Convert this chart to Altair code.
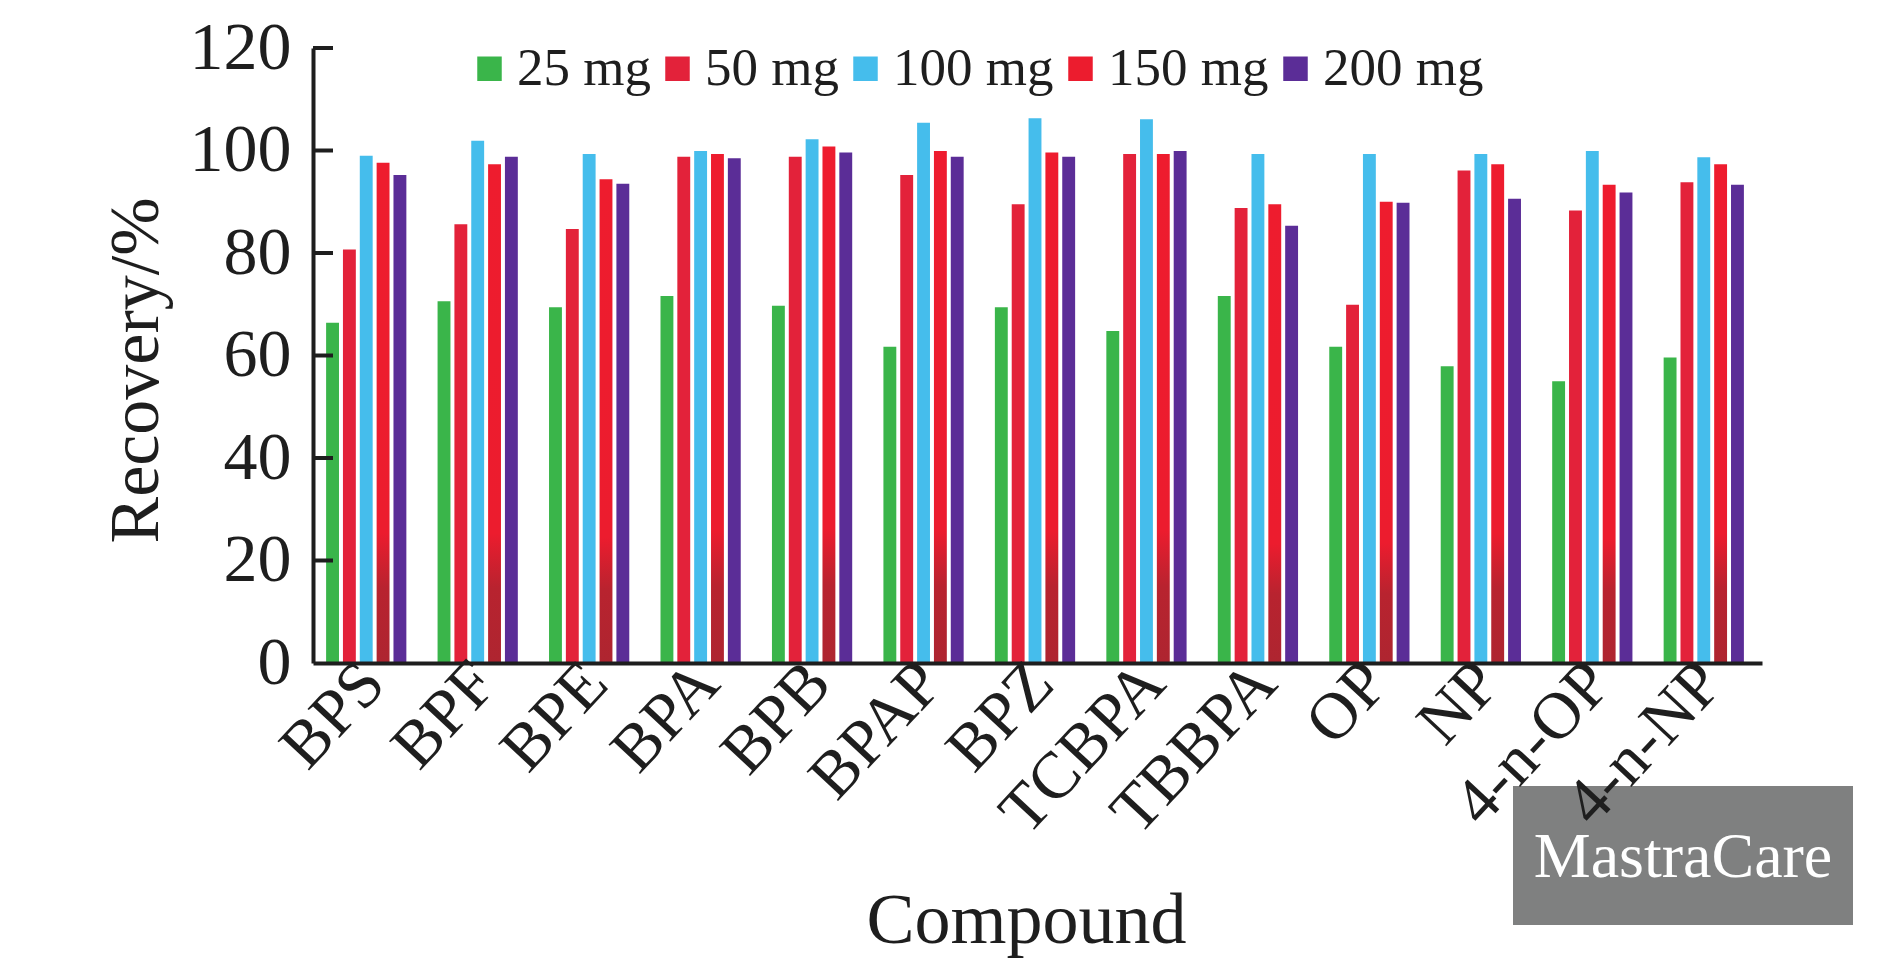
import altair as alt
import pandas as pd

# Recovery (%) of each compound at five sorbent dosages
compounds = ["BPS", "BPF", "BPE", "BPA", "BPB", "BPAP", "BPZ", "TCBPA",
             "TBBPA", "OP", "NP", "4-n-OP", "4-n-NP"]
doses = ["25 mg", "50 mg", "100 mg", "150 mg", "200 mg"]
rec_25mg = [66.4, 70.6, 69.4, 71.6, 69.7, 61.7, 69.4, 64.8, 71.6, 61.7, 57.9, 55.0, 59.6]
rec_50mg = [80.7, 85.6, 84.7, 98.8, 98.8, 95.2, 89.5, 99.3, 88.8, 69.9, 96.1, 88.3, 93.8]
rec_100mg = [99.0, 101.9, 99.3, 99.9, 102.2, 105.4, 106.3, 106.1, 99.3, 99.3, 99.3, 99.9, 98.7]
rec_150mg = [97.6, 97.3, 94.4, 99.3, 100.8, 99.9, 99.6, 99.3, 89.5, 90.0, 97.3, 93.3, 97.3]
rec_200mg = [95.2, 98.8, 93.5, 98.5, 99.6, 98.8, 98.8, 99.9, 85.3, 89.8, 90.6, 91.8, 93.3]
dose_colors = ["#3AB54A", "#E3223A", "#45BDEC", "#EC1C2E", "#5B2D97"]
y_ticks = [0, 20, 40, 60, 80, 100, 120]

rows = []
for dose, series in zip(doses, [rec_25mg, rec_50mg, rec_100mg, rec_150mg, rec_200mg]):
    for compound, value in zip(compounds, series):
        rows.append({"Compound": compound, "Dose": dose, "Recovery": value})
df = pd.DataFrame(rows)

FONT = "Liberation Serif"
INK = "#1E1E1E"

# the 150 mg bars fade to a darker red towards their base
red_fade = alt.LinearGradient(
    gradient="linear", x1=0, y1=0, x2=0, y2=1,
    stops=[
        alt.GradientStop(offset=0, color="#EE1C2E"),
        alt.GradientStop(offset=0.74, color="#EC1C2E"),
        alt.GradientStop(offset=0.85, color="#B8232F"),
        alt.GradientStop(offset=1, color="#AE2530"),
    ],
)

y_axis = alt.Axis(
    values=y_ticks, ticks=False, tickSize=0, grid=False,
    domain=True, domainWidth=4, domainColor=INK,
    labelFont=FONT, labelFontSize=68, labelColor=INK, labelPadding=22,
    labelFlush=False, labelOverlap=False,
    title="Recovery/%", titleFont=FONT, titleFontSize=70, titleFontWeight="normal",
    titleColor=INK, titleAngle=-90, titleX=-156, titleY=322,
    titleAlign="center", titleBaseline="alphabetic", zindex=1,
)

x_axis = alt.Axis(
    ticks=False, tickSize=0, grid=False,
    domain=True, domainWidth=4, domainColor=INK,
    labelFont=FONT, labelFontSize=66, labelColor=INK,
    labelAngle=-47, labelAlign="right", labelBaseline="middle",
    labelPadding=9, labelOffset=7, labelLimit=500, labelOverlap=False,
    title="Compound", titleFont=FONT, titleFontSize=72, titleFontWeight="normal",
    titleColor=INK, titleX=713, titleY=279,
    titleAlign="center", titleBaseline="alphabetic", zindex=1,
)

legend = alt.Legend(
    orient="none", legendX=150, legendY=-6, direction="horizontal",
    title=None, symbolType="square", symbolSize=600, symbolStrokeWidth=0,
    labelFont=FONT, labelFontSize=53, labelColor=INK, labelOffset=1,
    labelLimit=400, columnPadding=0, padding=0,
)

bars = alt.Chart(df).mark_bar().encode(
    x=alt.X("Compound:N", sort=compounds, title="Compound",
            scale=alt.Scale(paddingInner=0.28, paddingOuter=0.14, align=0.42),
            axis=x_axis),
    xOffset=alt.XOffset("Dose:N", sort=doses,
                        scale=alt.Scale(paddingInner=0.235, paddingOuter=0)),
    y=alt.Y("Recovery:Q", title="Recovery/%",
            scale=alt.Scale(domain=[0, 120], nice=False, zero=True), axis=y_axis),
    color=alt.condition(
        alt.datum.Dose == "150 mg",
        alt.value(red_fade),
        alt.Color("Dose:N", sort=doses,
                  scale=alt.Scale(domain=doses, range=dose_colors), legend=legend),
    ),
)

# inward tick marks on the value axis
ticks = alt.Chart(pd.DataFrame({"tick": y_ticks[1:]})).mark_rule(
    color=INK, strokeWidth=4
).encode(
    y=alt.Y("tick:Q", title="Recovery/%"),
    x=alt.value(0),
    x2=alt.value(20),
)

brand = pd.DataFrame({"brand": ["MastraCare"]})
brand_box = alt.Chart(brand).mark_rect(color="#7F8080").encode(
    x=alt.value(1200), x2=alt.value(1540), y=alt.value(738), y2=alt.value(877)
)
brand_text = alt.Chart(brand).mark_text(
    font=FONT, fontSize=64, color="white", align="center", baseline="alphabetic"
).encode(text="brand:N", x=alt.value(1370), y=alt.value(829))

chart = alt.layer(bars, ticks, brand_box, brand_text).properties(
    width=1449,
    height=615,
    autosize=alt.AutoSizeParams(type="none"),
    padding={"left": 313, "top": 48, "right": 128, "bottom": 299},
    background="white",
).configure_view(stroke=None)

chart.save("out.html", embed_options={"renderer": "svg", "actions": False})
